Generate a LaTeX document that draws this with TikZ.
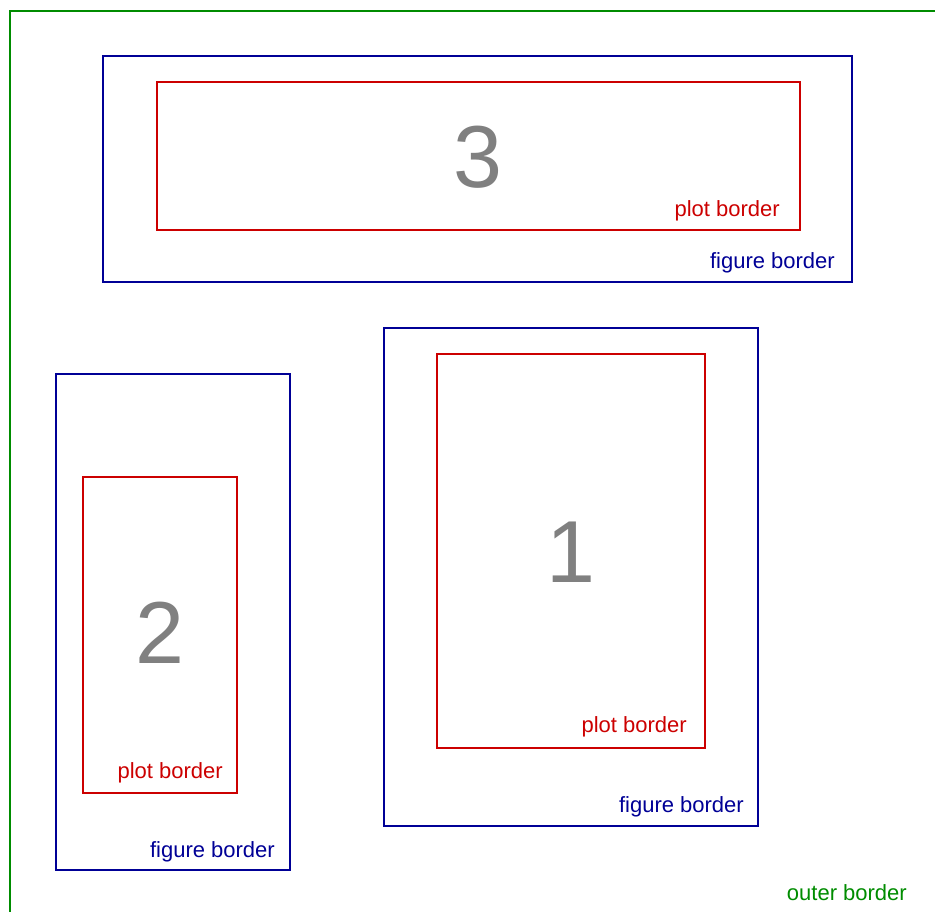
\documentclass[tikz,border=0pt]{standalone}
\usepackage{fontspec}
\setmainfont{Liberation Sans}
\definecolor{outergreen}{RGB}{0,140,0}
\definecolor{figblue}{RGB}{0,0,150}
\definecolor{plotred}{RGB}{204,0,0}
\definecolor{numgray}{RGB}{128,128,128}
\begin{document}
\begin{tikzpicture}[x=1pt,y=-1pt,
  figbox/.style={draw=figblue, line width=2pt, inner sep=0pt, rectangle},
  plotbox/.style={draw=plotred, line width=2pt, inner sep=0pt, rectangle},
  lbl/.style={inner sep=0pt, anchor=base east, font=\fontsize{22}{24}\selectfont},
  figlbl/.style={lbl, text=figblue},
  plotlbl/.style={lbl, text=plotred},
  numlbl/.style={inner sep=0pt, anchor=base, text=numgray, font=\fontsize{88}{90}\selectfont}]
  \useasboundingbox (0,0) rectangle (935,912);

  % outer border: left and top edges only
  \coordinate (ob1) at (10,930);
  \coordinate (ob2) at (10,11.5);
  \coordinate (ob3) at (950,11.5);
  \draw[outergreen, line width=2pt] (ob1) -- (ob2) -- (ob3);
  \node[lbl, text=outergreen] (oblbl) at (907,900) {outer border};

  % figure 3
  \node[figbox, minimum width=749pt, minimum height=226pt] (fig3) at (477.5,169.5) {};
  \node[plotbox, minimum width=643pt, minimum height=148pt] (plot3) at (478,156.3) {};
  \node[numlbl] (n3) at (478,188) {3};
  \node[plotlbl] (p3lbl) at (780,217) {plot border};
  \node[figlbl] (f3lbl) at (835,269) {figure border};

  % figure 2
  \node[figbox, minimum width=234pt, minimum height=496pt] (fig2) at (173,622) {};
  \node[plotbox, minimum width=154pt, minimum height=316pt] (plot2) at (160,635) {};
  \node[numlbl] (n2) at (160,663) {2};
  \node[plotlbl] (p2lbl) at (223,778) {plot border};
  \node[figlbl] (f2lbl) at (275,857) {figure border};

  % figure 1
  \node[figbox, minimum width=374pt, minimum height=498pt] (fig1) at (571,577) {};
  \node[plotbox, minimum width=268pt, minimum height=394pt] (plot1) at (571,551) {};
  \node[numlbl] (n1) at (571,582) {1};
  \node[plotlbl] (p1lbl) at (687,732) {plot border};
  \node[figlbl] (f1lbl) at (744,812) {figure border};
\end{tikzpicture}
\end{document}
